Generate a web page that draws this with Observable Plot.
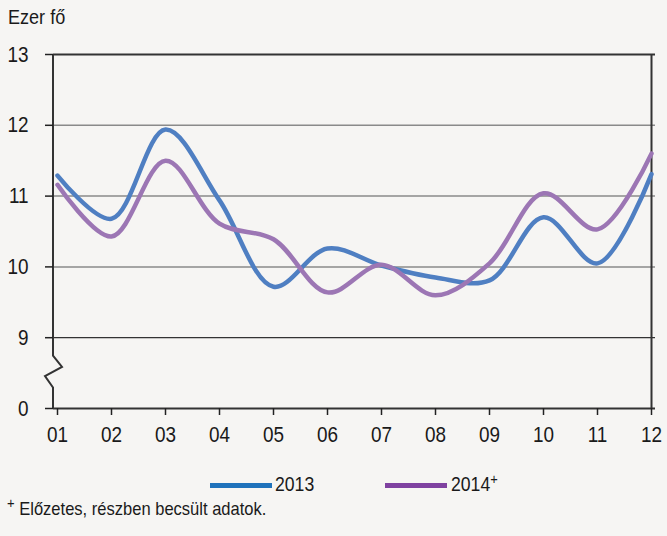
<!DOCTYPE html>
<html><head><meta charset="utf-8">
<script src="https://cdn.jsdelivr.net/npm/d3@7"></script>
<script src="https://cdn.jsdelivr.net/npm/@observablehq/plot@0.6"></script>
<style>
body{margin:0;background:#f6f5f3;width:667px;height:536px;overflow:hidden;position:relative;font-family:"Liberation Sans","Arial Narrow",sans-serif;color:#1a1a1a}
.nar{position:absolute;transform:scaleX(0.86);transform-origin:0 0;white-space:nowrap}
#title{left:8px;top:5px;font-size:21px}
#chart{position:absolute;left:0;top:30px}
.sw{position:absolute;top:483px;width:62px;height:5px}
.legt{top:472px;font-size:20.5px}
#note{left:7px;top:498px;font-size:19px;transform:scaleX(0.87)}
sup{font-size:15px;vertical-align:7px;line-height:0}
</style></head><body>
<div id="title" class="nar">Ezer fő</div>
<div id="chart"></div>
<span class="sw" style="left:210px;background:#1f72bb"></span>
<div class="nar legt" style="left:275px">2013</div>
<span class="sw" style="left:385px;background:#7f42a0"></span>
<div class="nar legt" style="left:451px">2014<sup>+</sup></div>
<div id="note" class="nar"><sup>+</sup> Előzetes, részben becsült adatok.</div>
<script>
const months = ["01","02","03","04","05","06","07","08","09","10","11","12"];
const s2013 = [11.29,10.68,11.94,10.94,9.72,10.26,10.02,9.85,9.81,10.70,10.05,11.31];
const s2014 = [11.16,10.43,11.50,10.61,10.39,9.64,10.03,9.60,10.05,11.04,10.53,11.60];
const yTicks = [8,9,10,11,12,13];
const yTickLabels = ["0","9","10","11","12","13"];
const seriesNames = ["2013","2014"];
const seriesColors = ["#4f7fc2","#9c76b4"];

const rows = [];
months.forEach((m,i)=>{
  rows.push({month:m, value:s2013[i], series:seriesNames[0]});
  rows.push({month:m, value:s2014[i], series:seriesNames[1]});
});

function leftAxisWithBreak(index, scales, values, dims) {
  const x0 = dims.marginLeft;
  const yTop = scales.y(13), y9 = scales.y(9), y0 = scales.y(8);
  const h = y0 - y9;
  const pts = [[x0,yTop],[x0,y9+0.26*h],[x0+9,y9+0.42*h],[x0-8,y9+0.55*h],[x0,y9+0.71*h],[x0,y0]];
  const p = document.createElementNS("http://www.w3.org/2000/svg","path");
  p.setAttribute("d", d3.line()(pts));
  p.setAttribute("fill","none");
  p.setAttribute("stroke","#333");
  p.setAttribute("stroke-width","2");
  return p;
}

const chart = Plot.plot({
  width: 667,
  height: 440,
  marginTop: 24,
  marginBottom: 62,
  marginLeft: 53,
  marginRight: 12,
  style: {background:"transparent", fontSize:"22px", fontFamily:'"Liberation Sans",sans-serif', color:"#1a1a1a"},
  x: {type:"point", domain: months, padding: 0, label: null},
  y: {domain:[8,13], label: null},
  color: {domain: seriesNames, range: seriesColors},
  marks: [
    Plot.ruleY([10,11,12], {stroke:"#8a8a8a", strokeWidth:1.5}),
    Plot.ruleY([9], {stroke:"#333", strokeWidth:1.2}),
    Plot.ruleY([13], {stroke:"#333", strokeWidth:2}),
    Plot.ruleY([8], {stroke:"#333", strokeWidth:2}),
    Plot.ruleX([months[months.length-1]], {stroke:"#333", strokeWidth:2}),
    leftAxisWithBreak,
    Plot.axisY({ticks: yTicks, tickFormat: (d)=>yTickLabels[yTicks.indexOf(d)], tickSize: 8, tickPadding: 17, stroke:"#222", fill:"#1a1a1a", strokeWidth:1.5, fontSize: 22}),
    Plot.axisX({tickSize: 7, tickPadding: 11, stroke:"#222", fill:"#1a1a1a", strokeWidth:1.5, fontSize: 22}),
    Plot.line(rows, {x:"month", y:"value", stroke:"series", z:"series", curve:"catmull-rom", strokeWidth:4.5})
  ]
});
// emulate a narrow typeface for tick labels
chart.querySelectorAll("text").forEach(t => {
  const tr = t.getAttribute("transform") || "";
  t.setAttribute("transform", tr + " scale(0.86,1)");
});
document.getElementById("chart").appendChild(chart);
</script>
</body></html>
